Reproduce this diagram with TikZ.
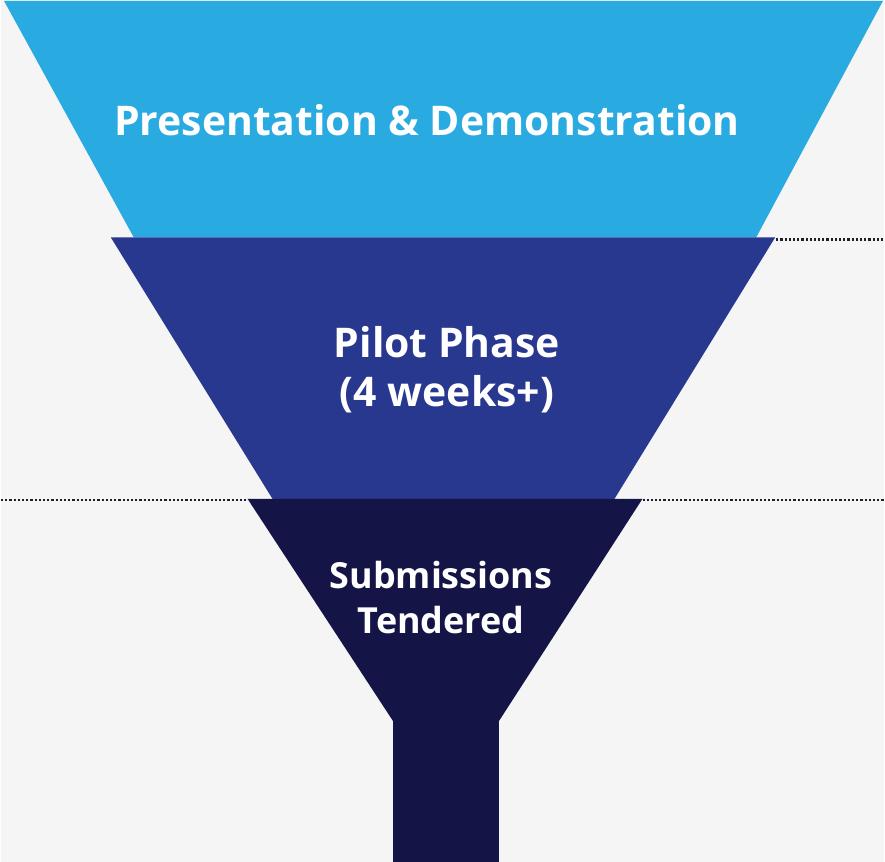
\documentclass[tikz,border=0pt]{standalone}
\usepackage{fontspec}
\setmainfont{Open Sans}
\definecolor{fnlbg}{HTML}{F5F5F5}
\definecolor{fnlsky}{HTML}{29ABE2}
\definecolor{fnlroyal}{HTML}{28388F}
\definecolor{fnlnavy}{HTML}{141446}
\definecolor{fnldots}{HTML}{1E1E28}

\begin{document}
\begin{tikzpicture}[x=1pt, y=-1pt,
  fnltext/.style={text=white, align=center, inner sep=0pt, anchor=base},
  fnlguide/.style={fnldots, line width=2.2pt, dash pattern=on 2.2pt off 2pt}]
  \def\fnlW{885}\def\fnlH{864}
  \fill[fnlbg] (0,0) rectangle (\fnlW,\fnlH);
  % Presentation & Demonstration
  \fill[fnlsky] (3,1) -- (884,1) -- (757,238) -- (133,238) -- cycle;
  \node[fnltext, font=\bfseries\fontsize{41}{50}\selectfont] (present) at (427,136) {Presentation \& Demonstration};
  % Pilot Phase
  \fill[fnlroyal] (110,238) -- (776,238) -- (615,500) -- (272,500) -- cycle;
  \node[fnltext, font=\bfseries\fontsize{41}{50}\selectfont] (pilot) at (447,408) {Pilot Phase\\(4 weeks+)};
  % Submissions Tendered
  \fill[fnlnavy] (247,500) -- (643,500) -- (499,723) -- (499,\fnlH) -- (393,\fnlH) -- (393,723) -- cycle;
  \node[fnltext, font=\bfseries\fontsize{36}{45}\selectfont] (submit) at (441,635) {Submissions\\Tendered};
  % guides
  \draw[fnlguide] (777,240) -- (\fnlW,240);
  \draw[fnlguide] (0,501) -- (247,501) (643,501) -- (\fnlW,501);
\end{tikzpicture}
\end{document}
